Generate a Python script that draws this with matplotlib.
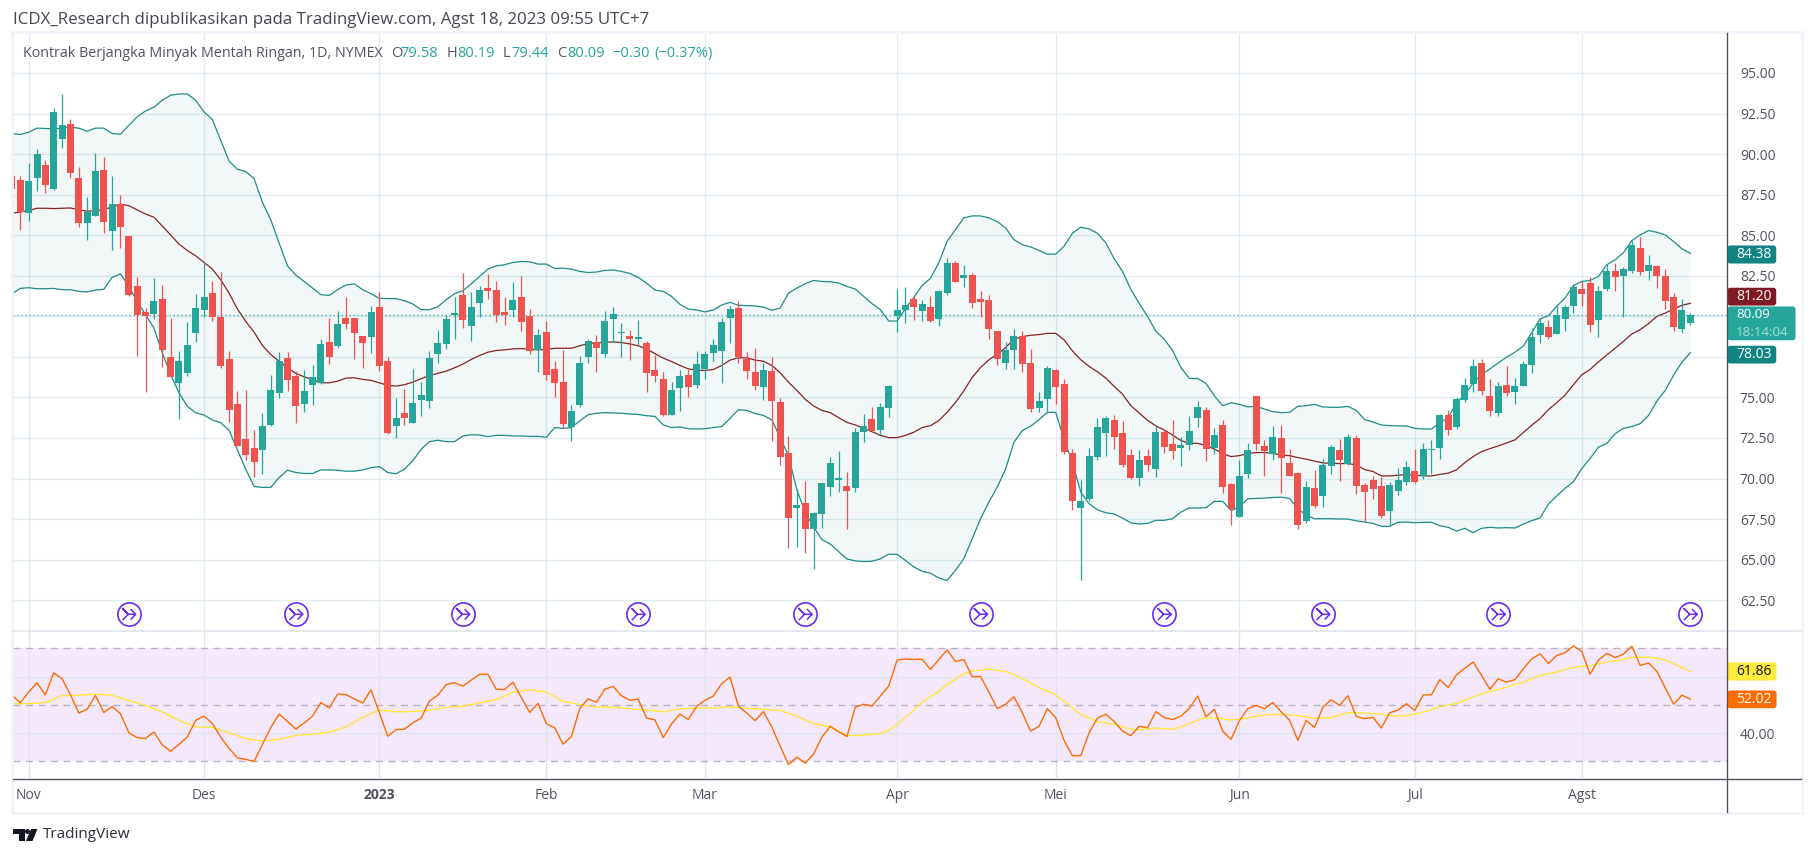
import matplotlib
matplotlib.use('Agg')
import matplotlib.pyplot as plt
from matplotlib.path import Path
from matplotlib.patches import Rectangle, FancyBboxPatch, Polygon, Circle
import numpy as np

plt.rcParams['font.family'] = ['Open Sans', 'DejaVu Sans']

bars = np.arange(-1, 201)

opens = [88.65, 88.40, 86.39, 88.55, 89.32, 87.85, 90.94, 91.84, 88.52, 85.78,
         86.19, 89.02, 85.23, 86.93, 84.96, 81.89, 80.29, 80.16, 81.09, 77.52,
         75.88, 76.5, 78.95, 80.37, 81.45, 79.98, 77.34, 74.57, 72.42, 71.86,
         71.76, 73.3, 75.27, 77.4, 76.35, 74.59, 75.76, 75.9, 78.44, 78.16,
         79.92, 79.92, 78.81, 78.71, 80.59, 77.27, 73.24, 74.02, 73.42, 74.84,
         74.77, 77.66, 78.28, 80.08, 81.33, 79.39, 80.8, 81.76, 81.64, 80.29,
         80.41, 81.21, 80.04, 77.91, 79.06, 76.78, 75.92, 73.18, 74.53, 77.48,
         78.44, 77.66, 79.86, 79.0, 78.81, 78.63, 78.38, 76.66, 76.11, 73.91,
         75.57, 76.41, 75.76, 76.78, 77.73, 77.85, 79.88, 80.53, 77.34, 76.54,
         75.64, 76.6, 74.69, 71.56, 68.2, 68.48, 66.91, 67.83, 69.49, 69.92,
         69.53, 69.43, 72.87, 73.65, 72.99, 74.34, 80.04, 80.41, 81.05, 80.33,
         80.55, 79.84, 81.43, 83.26, 82.36, 82.52, 81.05, 80.98, 79.08, 77.13,
         77.93, 78.77, 77.11, 74.36, 74.92, 76.68, 75.82, 71.58, 68.16, 68.71,
         71.35, 72.83, 73.61, 72.81, 71.45, 70.06, 71.39, 70.61, 72.87, 72.13,
         71.89, 72.09, 73.75, 74.22, 71.91, 73.3, 69.67, 67.6, 70.25, 75.08,
         72.0, 71.5, 72.5, 70.96, 70.35, 67.36, 69.43, 68.95, 70.8, 71.76,
         70.9, 72.5, 69.59, 69.9, 69.53, 68.01, 69.24, 69.77, 70.45, 70.14,
         71.74, 71.89, 73.89, 73.18, 74.82, 75.8, 77.15, 75.06, 74.02, 75.74,
         75.31, 75.7, 76.99, 78.83, 79.36, 78.89, 79.82, 80.61, 81.7, 82.07,
         79.75, 81.66, 82.81, 82.46, 82.81, 84.22, 82.77, 83.11, 82.5, 81.21,
         79.2, 79.58]
closes = [87.87, 86.43, 88.34, 90.0, 88.11, 92.58, 91.78, 88.85, 85.78, 86.43,
          88.95, 85.84, 86.93, 85.53, 81.33, 80.08, 80.0, 80.96, 77.91, 76.25,
          77.27, 78.2, 80.53, 81.21, 79.94, 76.93, 74.22, 72.01, 71.45, 71.02,
          73.22, 75.43, 77.27, 76.07, 74.47, 75.37, 76.23, 78.32, 77.48, 79.55,
          79.51, 78.95, 78.34, 80.29, 76.93, 72.79, 73.71, 73.73, 74.63, 75.12,
          77.4, 78.38, 79.86, 80.18, 79.75, 80.59, 81.64, 81.58, 80.1, 80.1,
          81.02, 79.63, 77.85, 78.87, 76.37, 75.88, 73.36, 74.14, 77.15, 78.5,
          78.03, 79.73, 80.16, 79.06, 78.57, 78.75, 76.5, 76.31, 73.91, 75.43,
          76.35, 75.64, 77.09, 77.7, 78.2, 79.67, 80.47, 77.52, 76.62, 75.7,
          76.72, 74.77, 71.33, 67.58, 68.36, 66.91, 67.87, 69.71, 70.94, 70.02,
          69.24, 72.85, 73.22, 72.91, 74.39, 75.68, 80.41, 80.72, 80.57, 80.74,
          79.71, 81.54, 83.26, 82.11, 82.52, 80.82, 80.86, 79.22, 77.38, 77.91,
          78.77, 77.07, 74.3, 74.77, 76.8, 75.66, 71.66, 68.59, 68.63, 71.39,
          73.18, 73.73, 72.58, 70.86, 70.06, 71.15, 70.86, 72.87, 71.97, 71.72,
          72.07, 72.93, 74.41, 71.84, 72.68, 69.45, 68.09, 70.16, 71.76, 72.15,
          71.72, 72.56, 71.29, 70.18, 67.11, 69.49, 68.28, 70.84, 71.95, 71.15,
          72.56, 69.51, 69.18, 69.36, 67.7, 69.59, 69.9, 70.7, 69.77, 71.8,
          71.8, 73.89, 72.99, 74.88, 75.74, 76.91, 75.37, 74.14, 75.68, 75.25,
          75.68, 77.09, 78.75, 79.61, 78.75, 80.1, 80.59, 81.82, 81.35, 79.45,
          81.58, 82.81, 82.4, 82.93, 84.41, 82.75, 83.18, 82.46, 80.92, 79.32,
          80.41, 80.09]
highs = [88.65, 88.65, 89.45, 90.31, 89.63, 92.83, 93.69, 92.15, 89.2, 87.36,
         90.06, 89.82, 88.65, 87.48, 84.96, 82.42, 80.53, 82.38, 81.95, 79.92,
         77.83, 79.67, 81.39, 83.32, 82.19, 82.75, 77.89, 75.37, 75.43, 72.97,
         74.02, 76.41, 77.77, 77.77, 76.6, 76.66, 76.97, 78.63, 79.92, 80.35,
         81.21, 79.92, 78.81, 80.66, 81.52, 77.46, 74.94, 75.49, 76.78, 75.92,
         77.83, 79.18, 80.1, 81.21, 82.68, 81.52, 81.89, 82.62, 82.19, 81.21,
         82.13, 82.5, 80.47, 79.24, 79.73, 77.27, 77.95, 74.51, 77.58, 78.57,
         78.87, 80.35, 80.59, 79.61, 79.18, 79.8, 78.5, 77.64, 76.54, 75.98,
         76.66, 76.78, 77.83, 77.89, 78.63, 79.92, 80.66, 80.96, 77.77, 78.07,
         77.15, 77.46, 74.94, 72.6, 69.34, 69.84, 67.93, 69.75, 71.31, 71.68,
         70.39, 73.09, 73.95, 74.39, 74.63, 75.74, 81.7, 81.82, 81.29, 80.98,
         81.23, 81.6, 83.57, 83.44, 83.14, 82.7, 81.54, 81.29, 79.08, 78.4,
         79.2, 79.08, 77.97, 75.33, 76.93, 76.74, 76.13, 71.82, 69.92, 71.89,
         73.73, 73.85, 73.91, 73.55, 71.82, 71.76, 71.82, 73.24, 73.05, 73.61,
         72.56, 73.85, 74.77, 74.41, 73.11, 73.61, 69.73, 71.15, 72.19, 75.08,
         72.38, 73.24, 73.3, 71.82, 70.41, 69.86, 70.53, 71.21, 72.07, 72.44,
         72.75, 72.68, 69.71, 70.14, 70.08, 69.77, 70.63, 71.07, 71.8, 72.17,
         72.36, 73.95, 74.2, 75.0, 76.17, 77.34, 77.34, 76.11, 75.92, 76.91,
         76.17, 77.27, 79.3, 79.92, 79.8, 80.66, 80.72, 82.0, 82.19, 82.44,
         81.89, 83.24, 83.3, 83.05, 84.65, 84.9, 83.79, 83.18, 82.93, 81.45,
         81.09, 80.19]
lows = [87.87, 85.29, 85.9, 87.73, 87.62, 87.79, 90.37, 88.55, 85.53, 84.73,
        86.19, 85.16, 84.06, 84.24, 81.23, 77.58, 75.33, 79.86, 76.86, 76.25,
        73.67, 76.31, 78.4, 79.94, 79.69, 76.8, 73.48, 72.01, 71.15, 70.08,
        70.27, 73.24, 74.96, 75.39, 73.42, 74.1, 74.53, 75.82, 77.05, 78.03,
        79.2, 77.36, 76.8, 77.73, 76.62, 72.75, 72.5, 73.3, 73.42, 73.85,
        74.34, 77.11, 77.97, 78.59, 79.26, 78.46, 79.94, 81.05, 79.67, 79.45,
        79.94, 79.08, 77.66, 76.54, 76.07, 75.02, 73.09, 72.32, 74.41, 77.11,
        76.56, 77.48, 78.4, 77.48, 77.3, 78.22, 75.33, 75.94, 73.85, 73.91,
        74.16, 75.02, 75.57, 76.13, 77.23, 75.88, 78.34, 77.11, 76.13, 75.45,
        74.84, 72.32, 70.84, 65.74, 65.8, 65.43, 64.45, 66.97, 68.93, 69.18,
        66.91, 69.18, 72.25, 72.85, 72.73, 73.79, 79.02, 79.61, 79.77, 79.69,
        79.65, 79.41, 81.31, 82.11, 81.8, 80.51, 79.96, 78.61, 77.01, 76.76,
        76.76, 76.58, 74.12, 74.12, 74.06, 74.59, 71.48, 68.03, 63.73, 68.59,
        71.11, 71.41, 71.82, 70.68, 70.0, 69.51, 70.49, 70.12, 71.6, 71.23,
        70.74, 71.78, 73.18, 71.05, 71.54, 69.08, 67.11, 67.6, 70.06, 71.78,
        70.18, 71.11, 69.08, 70.18, 66.86, 67.23, 68.16, 68.22, 70.25, 69.82,
        70.84, 69.02, 67.4, 68.75, 67.58, 67.09, 69.0, 69.61, 69.71, 69.98,
        70.27, 71.19, 72.68, 73.05, 74.69, 75.31, 75.12, 73.83, 73.83, 75.06,
        74.57, 75.7, 76.5, 78.34, 78.57, 78.89, 79.08, 80.18, 80.61, 79.06,
        78.71, 81.54, 81.54, 79.94, 82.68, 82.56, 82.25, 81.76, 80.43, 79.08,
        78.95, 79.44]

bb_upper = [91.27, 91.21, 91.35, 91.6, 91.58, 91.56, 91.6, 91.66, 91.6, 91.41,
            91.6, 91.6, 91.27, 91.23, 91.78, 92.3, 92.66, 92.89, 93.32, 93.63,
            93.71, 93.71, 93.32, 92.6, 92.13, 90.86, 89.57, 89.06, 88.93, 88.48,
            87.03, 85.94, 84.51, 83.11, 82.54, 82.15, 81.74, 81.33, 81.29, 81.64,
            81.93, 82.0, 81.64, 81.39, 81.11, 81.09, 81.09, 80.96, 80.76, 80.41,
            80.41, 80.59, 81.02, 81.39, 81.58, 81.99, 82.46, 82.91, 83.11, 83.18,
            83.32, 83.38, 83.36, 83.22, 83.22, 82.95, 82.97, 82.91, 82.77, 82.7,
            82.73, 82.83, 82.85, 82.77, 82.64, 82.4, 82.05, 81.62, 81.54, 81.23,
            80.74, 80.45, 80.39, 80.27, 80.39, 80.7, 80.86, 80.68, 80.66, 80.64,
            80.57, 80.37, 80.51, 81.43, 81.74, 82.01, 82.21, 82.15, 82.13, 82.05,
            81.84, 81.68, 81.23, 80.78, 80.41, 79.71, 79.71, 80.47, 81.15, 81.91,
            82.34, 83.3, 84.63, 85.35, 86.07, 86.19, 86.19, 86.07, 85.84, 85.45,
            84.73, 84.41, 84.28, 84.06, 83.83, 83.83, 84.32, 85.12, 85.49, 85.39,
            85.12, 84.53, 83.55, 82.77, 81.66, 80.8, 79.98, 79.08, 78.59, 77.89,
            76.84, 76.17, 76.17, 75.86, 75.1, 74.49, 74.67, 74.57, 74.41, 74.45,
            74.28, 74.12, 74.06, 74.08, 74.45, 74.49, 74.57, 74.41, 74.39, 74.39,
            74.45, 74.2, 73.63, 73.48, 73.3, 73.26, 73.24, 73.24, 73.09, 73.05,
            73.05, 73.44, 73.75, 74.67, 75.18, 75.9, 76.41, 76.76, 77.13, 77.48,
            77.79, 78.16, 78.98, 79.84, 80.04, 80.61, 81.13, 81.89, 82.15, 82.21,
            82.46, 83.18, 83.48, 83.93, 84.67, 85.02, 85.29, 85.18, 85.02, 84.61,
            84.16, 83.89]
bb_basis = [86.35, 86.43, 86.52, 86.66, 86.66, 86.64, 86.66, 86.68, 86.56, 86.48,
            86.52, 86.56, 86.76, 86.91, 86.82, 86.56, 86.31, 86.11, 85.57, 85.02,
            84.45, 84.06, 83.73, 83.32, 82.91, 82.25, 81.43, 80.45, 79.69, 79.02,
            78.2, 77.64, 77.23, 76.82, 76.48, 76.27, 76.09, 75.9, 75.9, 76.0,
            76.19, 76.21, 76.11, 76.05, 75.9, 75.74, 75.7, 75.78, 75.94, 76.15,
            76.35, 76.48, 76.62, 76.82, 77.05, 77.34, 77.58, 77.79, 77.89, 77.93,
            77.99, 78.01, 77.97, 77.93, 77.95, 78.03, 78.03, 78.03, 78.18, 78.32,
            78.36, 78.4, 78.42, 78.38, 78.3, 78.18, 77.99, 77.7, 77.42, 77.21,
            76.97, 76.76, 76.68, 76.66, 76.72, 76.97, 77.3, 77.44, 77.44, 77.3,
            77.23, 76.97, 76.52, 75.94, 75.43, 74.88, 74.47, 74.2, 74.06, 73.75,
            73.46, 73.3, 73.09, 72.89, 72.66, 72.52, 72.52, 72.66, 72.85, 73.14,
            73.26, 73.57, 74.08, 74.69, 75.41, 76.23, 76.84, 77.32, 77.66, 78.07,
            78.59, 78.75, 78.83, 78.87, 78.95, 78.95, 78.55, 77.87, 77.32, 76.91,
            76.58, 76.19, 75.68, 75.2, 74.49, 74.04, 73.59, 73.24, 72.99, 72.68,
            72.34, 72.17, 72.17, 72.03, 71.82, 71.54, 71.35, 71.41, 71.54, 71.6,
            71.6, 71.54, 71.45, 71.41, 71.29, 71.19, 71.07, 70.96, 70.94, 70.92,
            70.92, 70.84, 70.55, 70.43, 70.16, 70.16, 70.2, 70.25, 70.2, 70.16,
            70.16, 70.25, 70.33, 70.53, 70.98, 71.35, 71.66, 71.84, 72.01, 72.19,
            72.38, 72.83, 73.28, 73.69, 74.24, 74.67, 75.14, 75.78, 76.39, 76.72,
            77.19, 77.62, 78.03, 78.46, 78.91, 79.18, 79.55, 80.0, 80.2, 80.45,
            80.68, 80.8]
bb_lower = [81.39, 81.72, 81.76, 81.7, 81.7, 81.72, 81.64, 81.64, 81.54, 81.5,
            81.62, 81.66, 82.4, 82.62, 81.84, 80.92, 80.1, 79.28, 77.75, 76.41,
            75.29, 74.45, 74.06, 73.91, 73.61, 73.44, 72.97, 71.76, 70.57, 69.51,
            69.45, 69.45, 70.06, 70.51, 70.37, 70.31, 70.31, 70.53, 70.53, 70.51,
            70.45, 70.45, 70.53, 70.66, 70.74, 70.37, 70.29, 70.57, 71.09, 71.8,
            72.27, 72.36, 72.27, 72.27, 72.62, 72.7, 72.68, 72.58, 72.66, 72.66,
            72.62, 72.62, 72.6, 72.6, 72.54, 73.14, 73.09, 73.14, 73.55, 73.93,
            74.02, 74.06, 74.04, 74.02, 73.98, 73.95, 73.87, 73.83, 73.3, 73.14,
            73.18, 73.07, 73.05, 73.07, 73.14, 73.2, 73.71, 74.24, 74.2, 74.0,
            73.89, 73.61, 72.52, 71.39, 69.3, 67.91, 67.03, 66.23, 65.96, 65.49,
            65.04, 64.92, 64.88, 64.9, 65.04, 65.33, 65.33, 64.95, 64.55, 64.28,
            64.16, 63.87, 63.71, 64.34, 65.06, 66.29, 67.52, 68.55, 69.47, 70.59,
            72.23, 72.95, 73.22, 73.63, 74.08, 74.08, 72.4, 71.0, 69.16, 68.44,
            68.07, 67.89, 67.81, 67.56, 67.27, 67.19, 67.23, 67.42, 67.42, 67.52,
            67.93, 68.18, 68.18, 68.2, 68.59, 68.59, 68.03, 68.24, 68.75, 68.77,
            68.79, 68.83, 68.85, 68.77, 68.14, 67.73, 67.52, 67.52, 67.52, 67.5,
            67.5, 67.39, 67.32, 67.23, 67.05, 67.05, 67.3, 67.32, 67.27, 67.3,
            67.3, 67.09, 66.99, 66.76, 66.93, 66.66, 66.93, 66.99, 66.95, 66.97,
            66.95, 67.19, 67.4, 67.56, 68.42, 68.93, 69.39, 69.8, 70.61, 71.23,
            71.93, 72.15, 72.77, 73.09, 73.2, 73.38, 73.89, 74.77, 75.43, 76.37,
            77.17, 77.75]

rsi = [53.4, 50.7, 54.5, 57.8, 53.5, 61.3, 59.2, 53.6, 47.1, 48.4,
       53.3, 47.3, 49.4, 46.8, 40.1, 38.4, 38.1, 40.4, 35.8, 33.6,
       36.0, 38.6, 44.5, 46.0, 43.4, 38.6, 34.6, 31.3, 30.7, 30.0,
       36.0, 42.0, 46.7, 44.1, 41.4, 43.6, 46.0, 50.8, 48.9, 53.8,
       53.6, 52.1, 50.6, 55.3, 47.2, 38.9, 41.2, 41.4, 43.6, 45.3,
       51.3, 53.4, 57.1, 57.8, 56.6, 58.7, 60.8, 60.8, 55.5, 55.4,
       58.0, 52.6, 47.3, 50.5, 43.3, 41.9, 36.1, 38.8, 48.7, 52.1,
       50.9, 55.5, 56.5, 53.2, 51.6, 52.0, 45.3, 44.7, 38.4, 43.3,
       46.7, 44.8, 49.5, 51.6, 53.1, 57.5, 59.8, 49.5, 47.1, 44.4,
       47.6, 42.2, 35.4, 28.9, 31.5, 29.4, 32.6, 38.6, 42.4, 40.5,
       38.8, 49.2, 50.2, 49.5, 53.1, 56.6, 65.8, 66.2, 66.0, 66.1,
       62.5, 66.0, 69.4, 65.3, 66.0, 59.9, 60.0, 54.5, 48.7, 50.2,
       52.8, 47.2, 40.7, 42.4, 48.6, 45.5, 37.4, 32.0, 32.0, 40.1,
       45.3, 46.7, 44.1, 40.7, 39.1, 42.4, 41.9, 47.6, 45.5, 44.8,
       46.0, 48.7, 53.1, 45.8, 48.4, 40.7, 37.8, 44.4, 48.6, 49.8,
       48.6, 50.8, 47.5, 44.6, 37.4, 44.5, 42.0, 49.2, 51.8, 49.8,
       53.2, 45.9, 45.1, 45.6, 41.8, 47.2, 48.1, 50.4, 48.0, 53.5,
       53.5, 58.9, 56.1, 60.6, 62.9, 65.1, 60.4, 55.5, 59.2, 58.0,
       58.9, 62.7, 66.2, 68.0, 64.6, 67.4, 68.4, 70.8, 68.9, 60.8,
       65.8, 68.2, 66.7, 67.9, 70.7, 63.9, 64.8, 61.8, 56.0, 50.2,
       53.4, 52.02]

rsi_ma_bars = [-1, 1, 3, 5, 7, 9, 11, 13, 15, 17, 19, 21, 23, 25, 27, 29, 31, 33, 35, 37,
               39, 41, 43, 45, 47, 49, 51, 53, 55, 57, 59, 61, 63, 65, 67, 69, 71, 73, 75, 77,
               79, 81, 83, 85, 87, 89, 91, 93, 95, 97, 99, 101, 103, 104, 105, 106, 107, 108, 110, 111,
               113, 114, 116, 118, 119, 121, 122, 124, 125, 127, 129, 131, 133, 134, 136, 138, 139, 141, 142, 143,
               145, 147, 149, 151, 153, 155, 157, 159, 161, 163, 165, 166, 168, 170, 172, 174, 176, 178, 180, 182,
               184, 186, 188, 190, 192, 193, 195, 196, 197, 200]
rsi_ma = [50.4, 50.4, 50.8, 53.3, 53.3, 53.8, 53.3, 51.5, 49.8, 47.5, 44.5, 42.2, 42.0, 40.1, 38.1, 37.2, 37.8, 39.2, 39.6, 40.2,
          42.2, 45.5, 48.2, 47.5, 47.6, 48.1, 49.1, 49.5, 50.7, 51.9, 54.4, 55.3, 54.5, 51.2, 50.1, 49.2, 49.2, 48.6, 48.1, 47.5,
          48.6, 48.8, 48.9, 49.3, 48.8, 48.4, 48.0, 46.0, 43.4, 42.2, 39.1, 39.2, 39.9, 40.9, 43.1, 45.6, 48.1, 50.9, 54.8, 57.2,
          60.9, 61.9, 62.6, 61.8, 60.7, 57.8, 56.1, 53.6, 51.3, 46.6, 44.1, 43.1, 41.3, 41.1, 41.8, 41.3, 42.2, 44.6, 45.3, 45.4,
          44.6, 45.4, 46.4, 46.7, 46.2, 45.2, 45.5, 47.2, 47.2, 46.6, 46.0, 46.2, 47.4, 49.3, 50.5, 52.8, 54.7, 56.2, 58.0, 60.4,
          61.6, 63.3, 63.8, 65.1, 66.0, 66.8, 66.8, 66.5, 65.8, 61.86]

price_ticks = [62.5, 65, 67.5, 70, 72.5, 75, 77.5, 80, 82.5, 85, 87.5, 90, 92.5, 95]
price_tick_labels = ['62.50', '65.00', '67.50', '70.00', '72.50', '75.00', '', '', '82.50', '85.00', '87.50', '90.00', '92.50', '95.00']
month_bars = [1, 22, 43, 63, 82, 105, 124, 146, 167, 187]
month_labels = ['Nov', 'Des', '2023', 'Feb', 'Mar', 'Apr', 'Mei', 'Jun', 'Jul', 'Agst']
idea_bars = [13, 33, 53, 74, 94, 115, 137, 156, 177, 200]
last_close = 80.09

GREEN, RED = '#26a69a', '#ef5350'
GRID = '#e1ecf2'
TEXT = '#50535e'
W, H = 1815, 857
AXIS_X = 1727.3


def pane(x0, y0, x1, y1):
    return fig.add_axes([x0 / W, 1 - y1 / H, (x1 - x0) / W, (y1 - y0) / H])


fig = plt.figure(figsize=(W / 100, H / 100), dpi=100, facecolor='white')

# x scale: bar k sits at 20.3 + 8.35 * k pixels
x_lim = ((13 - 20.3) / 8.35, (AXIS_X - 20.3) / 8.35)

# y scale: 80.00 sits at 316.3 px, 16.22 px per dollar
ax = pane(13, 33, AXIS_X, 631)
ax.set_xlim(x_lim)
ax.set_ylim(80 - (631 - 316.3) / 16.22, 80 + (316.3 - 33) / 16.22)
ax.set_yticks(price_ticks)
ax.set_yticklabels(price_tick_labels)
ax.set_xticks(month_bars)
ax.tick_params(axis='x', length=0, labelbottom=False)
ax.yaxis.tick_right()
ax.tick_params(axis='y', length=0, pad=9, labelsize=10, labelcolor=TEXT)
ax.grid(True, color=GRID, lw=1.0)
ax.set_axisbelow(True)
for s in ax.spines.values():
    s.set_visible(False)

ax.fill_between(bars, bb_lower, bb_upper, color='#00897b', alpha=0.05, lw=0, zorder=1)
ax.plot(bars, bb_upper, color='#1f8b87', lw=0.9, zorder=2)
ax.plot(bars, bb_lower, color='#1f8b87', lw=0.9, zorder=2)
ax.plot(bars, bb_basis, color='#872323', lw=0.9, zorder=2)
ax.axhline(last_close, color=GREEN, lw=0.9, ls=(0, (1, 2.2)), zorder=2)

o = np.array(opens)
c = np.array(closes)
colors = [GREEN if cc >= oo else RED for oo, cc in zip(o, c)]
ax.vlines(bars, lows, highs, colors=colors, lw=0.9, zorder=3)
ax.bar(bars, np.maximum(np.abs(c - o), 0.06), bottom=np.minimum(o, c), width=7.0 / 8.35,
       color=colors, lw=0, zorder=4)

# idea icons
arrow = Path([(-0.55, -0.5), (-0.05, 0.0), (-0.55, 0.5), (-0.05, 0.0), (0.6, 0.0), (0.15, 0.45), (0.6, 0.0), (0.15, -0.45)],
             [Path.MOVETO, Path.LINETO, Path.LINETO, Path.LINETO, Path.LINETO, Path.MOVETO, Path.LINETO, Path.LINETO])
idea_y = 80 - (614.3 - 316.3) / 16.22
ax.scatter(idea_bars, [idea_y] * len(idea_bars), s=280, facecolor='white', edgecolor='#6a2cf5', lw=1.2, zorder=5)
ax.scatter(idea_bars, [idea_y] * len(idea_bars), s=100, marker=arrow, facecolor='none', edgecolor='#6a2cf5', lw=1.1, zorder=6)

ar = pane(13, 631, AXIS_X, 778.3)
ar.set_xlim(x_lim)
ar.set_ylim(50 - (778.3 - 704.8) / 2.83, 50 + (704.8 - 631) / 2.83)
ar.axhspan(30, 70, color='#f5e8fd', lw=0, zorder=0)
ar.set_yticks([60, 40])
ar.set_yticklabels(['', '40.00'])
ar.yaxis.tick_right()
ar.tick_params(axis='y', length=0, pad=9, labelsize=10, labelcolor=TEXT)
ar.set_xticks(month_bars)
ar.set_xticklabels(month_labels)
ar.tick_params(axis='x', length=0, pad=7, labelsize=10, labelcolor=TEXT)
ar.get_xticklabels()[2].set_fontweight('bold')
ar.grid(True, color='#dde3f0', lw=1.0, zorder=1)
ar.set_axisbelow(True)
for level in [70, 50, 30]:
    ar.axhline(level, color='#b9b3c2', lw=1.0, ls=(0, (5, 4)), zorder=2)
ar.plot(rsi_ma_bars, rsi_ma, color='#ffe83b', lw=1.0, zorder=3)
ar.plot(bars, rsi, color='#ff6d00', lw=1.0, zorder=4)
for s in ar.spines.values():
    s.set_visible(False)

# overlay in pixel coordinates: frame, price chips, header text
ov = fig.add_axes([0, 0, 1, 1], zorder=10)
ov.set_xlim(0, W)
ov.set_ylim(H, 0)
ov.axis('off')
ov.patch.set_alpha(0)

frame = '#f0f3fa'
ov.add_patch(Rectangle((12, 32), 1790, 780.5, fill=False, ec=frame, lw=2))
ov.plot([13, 1801], [631.3, 631.3], color='#e0e3eb', lw=1.2)
ov.plot([13, 1801], [778.5, 778.5], color=TEXT, lw=1.0)
ov.plot([AXIS_X, AXIS_X], [33, 812], color=TEXT, lw=1.0)


def chip(y0, y1, x1, col, lines, tcol='white'):
    ov.add_patch(FancyBboxPatch((AXIS_X + 1, y0 + 1.5), x1 - AXIS_X - 2.5, y1 - y0 - 3,
                                boxstyle='round,pad=0,rounding_size=2', fc=col, ec=col, lw=1.5))
    for text, yc, tc, fs in lines:
        ov.text(1736, yc, text, color=tc or tcol, fontsize=fs, va='center', ha='left', fontweight='medium')


chip(245, 264, 1776.7, '#138484', [('84.38', 254.5, None, 10)])
chip(287.3, 306, 1776.7, '#801922', [('81.20', 296.5, None, 10)])
chip(306, 340.7, 1796, '#26a69a', [('80.09', 314.5, None, 9.6), ('18:14:04', 332.5, '#a8dcd6', 9.6)])
chip(345.3, 364, 1776.7, '#138484', [('78.03', 354.5, None, 10)])
chip(662, 681, 1777, '#ffeb3b', [('61.86', 671.7, '#131722', 10)])
chip(690, 708.7, 1777, '#ff6d00', [('52.02', 699.5, None, 10)])

ov.text(13, 20, 'ICDX_Research dipublikasikan pada TradingView.com, Agst 18, 2023 09:55 UTC+7',
        fontsize=12.2, color='#444750', va='center')
ov.text(23, 53.5, 'Kontrak Berjangka Minyak Mentah Ringan, 1D, NYMEX', fontsize=10.3, color=TEXT, va='center')
head = [(391, 'O', TEXT), (400.5, '79.58', GREEN), (447, 'H', TEXT), (457, '80.19', GREEN), (503, 'L', TEXT),
        (511, '79.44', GREEN), (557, 'C', TEXT), (567, '80.09', GREEN), (612, '\u22120.30', GREEN), (654, '(\u22120.37%)', GREEN)]
for hx, s, col in head:
    ov.text(hx, 53.5, s, fontsize=10.5, color=col, va='center')

# TradingView logo
ov.add_patch(Polygon([(13, 829), (25, 829), (25, 841), (19, 841), (19, 834), (13, 834)], fc='#131722', ec='none'))
ov.add_patch(Circle((27.5, 831.5), 2.5, fc='#131722', ec='none'))
ov.add_patch(Polygon([(31, 829), (37.5, 829), (32.5, 841), (26, 841)], fc='#131722', ec='none'))
ov.text(42.5, 835, 'TradingView', fontsize=11, color='#2a2e39', va='center')

fig.savefig('out.png', dpi=100)
